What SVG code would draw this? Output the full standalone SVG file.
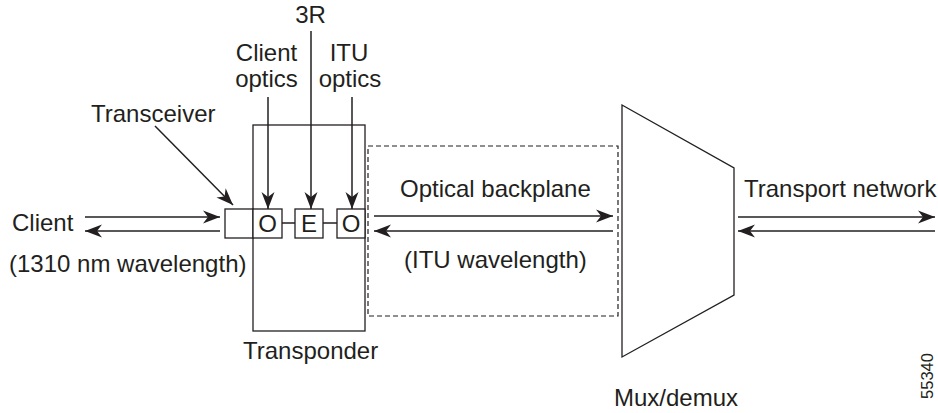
<svg xmlns="http://www.w3.org/2000/svg" width="938" height="413" viewBox="0 0 938 413">
<style>
text { font-family: "Liberation Sans", Arial, sans-serif; font-size: 24px; fill: #231f20; }
.box { fill: #ffffff; stroke: #231f20; stroke-width: 1.3; }
.ln { fill: none; stroke: #231f20; stroke-width: 1.5; }
.dash { fill: none; stroke: #231f20; stroke-width: 1.2; stroke-dasharray: 5 3; }
</style>
<defs>
<marker id="ah" markerUnits="userSpaceOnUse" markerWidth="20" markerHeight="16" viewBox="-18 -8 20 16" refX="0" refY="0" orient="auto">
<path d="M0,0 L-17,-6.5 L-12,0 L-17,6.5 Z" fill="#231f20"/>
</marker>
</defs>
<rect width="938" height="413" fill="#ffffff"/>
<g id="transponder">
<rect class="box" x="253" y="125" width="112" height="206"/>
<text x="243" y="359">Transponder</text>
</g>
<g id="backplane">
<rect class="dash" x="368" y="146" width="250" height="170"/>
<text x="400" y="197">Optical backplane</text>
<text x="404" y="268">(ITU wavelength)</text>
</g>
<g id="mux">
<polygon class="box" points="622,105 734,168 734,295 622,357"/>
<text x="614" y="406">Mux/demux</text>
</g>
<g id="transceiver">
<rect class="box" x="225" y="209" width="28" height="29"/>
<text x="91" y="122">Transceiver</text>
</g>
<g id="o1">
<rect class="box" x="253" y="209" width="29" height="29"/>
<text x="267.5" y="232" text-anchor="middle">O</text>
</g>
<g id="e">
<rect class="box" x="295" y="209" width="28" height="29"/>
<text x="309" y="232" text-anchor="middle">E</text>
</g>
<g id="o2">
<rect class="box" x="337" y="209" width="28" height="29"/>
<text x="351" y="232" text-anchor="middle">O</text>
</g>
<g id="client">
<text x="12" y="231">Client</text>
<text x="9" y="272">(1310 nm wavelength)</text>
</g>
<g id="transport">
<text x="744" y="197">Transport network</text>
</g>
<g id="labels">
<text x="310.5" y="23" text-anchor="middle">3R</text>
<text x="266.5" y="61" text-anchor="middle">Client</text>
<text x="266.5" y="87" text-anchor="middle">optics</text>
<text x="349" y="61" text-anchor="middle">ITU</text>
<text x="350" y="87" text-anchor="middle">optics</text>
<text transform="translate(933,376) rotate(-90)" text-anchor="middle" style="font-size:16.5px">55340</text>
</g>
<g id="connectors">
<line class="ln" x1="282" y1="223" x2="295" y2="223"/>
<line class="ln" x1="323" y1="223" x2="337" y2="223"/>
<line class="ln" x1="268" y1="97" x2="268" y2="209" marker-end="url(#ah)"/>
<line class="ln" x1="311" y1="31" x2="311" y2="209" marker-end="url(#ah)"/>
<line class="ln" x1="352" y1="97" x2="352" y2="209" marker-end="url(#ah)"/>
<line class="ln" x1="155" y1="126" x2="233" y2="205" marker-end="url(#ah)"/>
<line class="ln" x1="85" y1="217" x2="220" y2="217" marker-end="url(#ah)"/>
<line class="ln" x1="220" y1="231" x2="85" y2="231" marker-end="url(#ah)"/>
<line class="ln" x1="374" y1="216" x2="613" y2="216" marker-end="url(#ah)"/>
<line class="ln" x1="613" y1="231" x2="374" y2="231" marker-end="url(#ah)"/>
<line class="ln" x1="738" y1="217" x2="935" y2="217" marker-end="url(#ah)"/>
<line class="ln" x1="935" y1="231" x2="738" y2="231" marker-end="url(#ah)"/>
</g>
</svg>
